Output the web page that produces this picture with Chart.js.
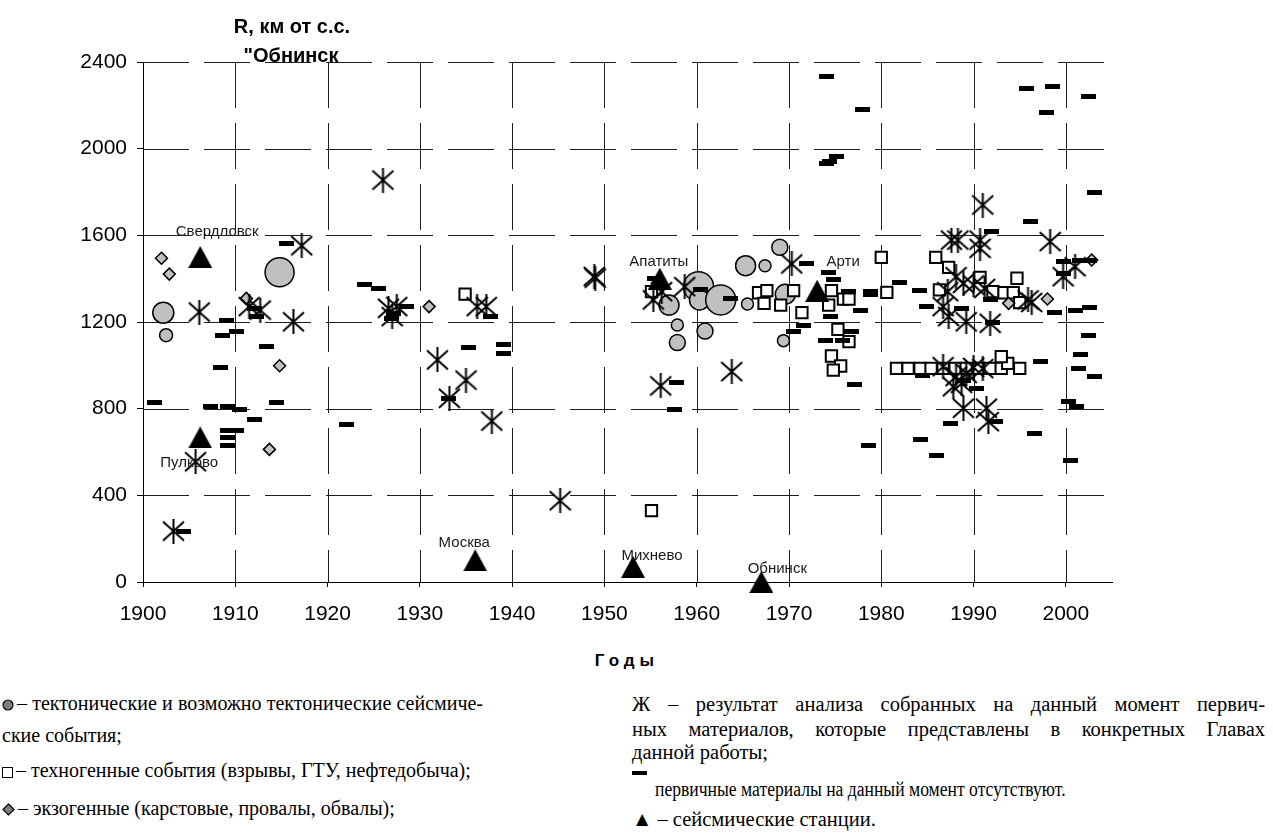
<!DOCTYPE html>
<html lang="ru">
<head>
<meta charset="utf-8">
<title>R от с.с. "Обнинск" по годам</title>
<script src="https://cdn.jsdelivr.net/npm/chart.js@4.4.1/dist/chart.umd.min.js"></script>
<style>
  body { margin: 0; background: #fff; }
  #page { position: relative; width: 1273px; height: 835px; overflow: hidden; color: #000;
          font-family: "Liberation Serif", "Times New Roman", serif; }
  #chart { position: absolute; left: 0; top: 0; }
  .ttl { position: absolute; font-family: "Liberation Sans", Arial, sans-serif; font-weight: bold;
         font-size: 20px; line-height: 20px; white-space: nowrap; transform: translateX(-50%); }
  .ln { position: absolute; font-size: 20.5px; line-height: 21px; white-space: nowrap; }
  .lc { font-size: 20px; }
  .ln svg { vertical-align: -1px; margin-right: 3px; }
</style>
</head>
<body>
<div id="page">
  <canvas id="chart" width="1273" height="640"></canvas>

  <div class="ttl" style="left:292px; top:16px;">R, км от с.с.</div>
  <div class="ttl" style="left:291px; top:45px;">"Обнинск</div>
  <div class="ttl" style="left:627px; top:651px; font-size:17px; letter-spacing:5px;">Годы</div>

  <div class="ln lc jst" data-w="481" style="left:2px; top:693px;"><svg width="12" height="12"><circle cx="6" cy="6" r="5" fill="#7f7f7f" stroke="#000" stroke-width="1.2"/></svg>– тектонические и возможно тектонические сейсмиче-</div>
  <div class="ln lc" style="left:2px; top:725px;">ские события;</div>
  <div class="ln lc" style="left:2px; top:760px;"><svg width="11" height="11"><rect x="0.5" y="0.5" width="10" height="10" fill="#fff" stroke="#000" stroke-width="1"/></svg>– техногенные события (взрывы, ГТУ, нефтедобыча);</div>
  <div class="ln lc" style="left:2px; top:798px;"><svg width="13" height="13"><path d="M6.5 1 L12 6.5 L6.5 12 L1 6.5 Z" fill="#7f7f7f" stroke="#000" stroke-width="1.2"/></svg>– экзогенные (карстовые, провалы, обвалы);</div>

  <div class="ln jst" data-w="633" style="left:632px; top:694px;">Ж – результат анализа собранных на данный момент первич-</div>
  <div class="ln jst" data-w="633" style="left:632px; top:719px;">ных материалов, которые представлены в конкретных Главах</div>
  <div class="ln" style="left:632px; top:742px;">данной работы;</div>
  <div style="position:absolute; left:632px; top:771px; width:15px; height:4px; background:#000;"></div>
  <div class="ln" style="left:655px; top:779px; font-size:20px; transform:scaleX(0.88); transform-origin:0 0;">первичные материалы на данный момент отсутствуют.</div>
  <div class="ln" style="left:632px; top:809px;">▲ – сейсмические станции.</div>
</div>

<script>
// Годы и расстояния R (км) от с.с. "Обнинск"
const xTicks = [1900, 1910, 1920, 1930, 1940, 1950, 1960, 1970, 1980, 1990, 2000]
const yTicks = [0, 400, 800, 1200, 1600, 2000, 2400]

// тектонические и возможно тектонические события (кружки разного размера)
const tectonicYears = [1902.2, 1902.5, 1914.8, 1957.0, 1957.9, 1957.9, 1960.2, 1960.3, 1960.9, 1962.6, 1965.3, 1967.4, 1969.0, 1965.5, 1969.6, 1969.4]
const tectonicR     = [1243, 1139, 1430, 1278, 1186, 1105, 1363, 1302, 1158, 1302, 1460, 1460, 1545, 1283, 1328, 1114]
const tectonicSize  = [10.5, 6.5, 14.5, 10, 6, 8, 15, 10, 8, 15, 10, 6, 8, 6, 10, 6]

// техногенные события
const techYears = [1934.9, 1955.1, 1955.1, 1966.7, 1967.6, 1967.3, 1969.1, 1970.5, 1974.6, 1974.3, 1975.9, 1976.5, 1971.4, 1975.3, 1976.5, 1974.6, 1975.6, 1974.8,
                   1980.0, 1980.6, 1985.9, 1987.3, 1990.7, 1994.7, 1986.3, 1992.1, 1993.3, 1994.3, 1995.0,
                   1981.65, 1982.9, 1984.2, 1985.4, 1986.7, 1988.0, 1989.2, 1990.5, 1991.8, 1993.0, 1995.0, 1993.7, 1993.0]
const techR     = [1329, 329, 1340, 1335, 1345, 1286, 1278, 1345, 1345, 1278, 1306, 1306, 1243, 1166, 1109, 1043, 997, 978,
                   1498, 1337, 1498, 1452, 1406, 1402, 1348, 1340, 1335, 1335, 1289,
                   986, 986, 986, 986, 986, 986, 986, 986, 986, 986, 986, 1009, 1040]

// экзогенные события
const exoYears = [1902.0, 1902.85, 1911.2, 1914.8, 1913.7, 1931.0, 1993.8, 1998.0, 2002.8]
const exoR     = [1494, 1421, 1309, 998, 612, 1271, 1286, 1306, 1486]

// Ж - результат анализа первичных материалов
const analysisYears = [1903.3, 1905.7, 1906.1, 1911.5, 1912.7, 1916.3, 1917.2, 1926.0, 1926.6, 1927.5, 1927.0, 1931.9, 1933.2, 1935.0, 1936.2, 1937.2, 1937.8,
                       1945.2, 1949.0, 1948.9, 1956.1, 1963.8, 1956.2, 1955.3, 1958.7, 1970.3,
                       1987.6, 1988.3, 1990.7, 1990.7, 1991.0, 1998.3, 2001.0, 1999.7, 1988.1, 1988.9, 1990.0, 1991.2, 1987.2, 1986.7, 1987.3, 1989.2, 1991.8, 1995.9, 1996.3,
                       1986.7, 1988.1, 1988.7, 1989.2, 1987.8, 1988.9, 1991.4, 1991.6, 1990.0, 1991.0]
const analysisR     = [235, 555, 1246, 1271, 1255, 1201, 1552, 1855, 1263, 1271, 1225, 1025, 848, 932, 1271, 1271, 743,
                       375, 1402, 1410, 905, 971, 1340, 1302, 1363, 1468,
                       1578, 1578, 1578, 1540, 1740, 1571, 1455, 1409, 1409, 1378, 1371, 1355, 1340, 1271, 1225, 1201, 1194, 1302, 1290,
                       994, 948, 917, 963, 901, 802, 802, 740, 990, 985]

// первичные материалы отсутствуют
const noDataYears = [1901.2, 1904.4, 1907.3, 1908.4, 1908.6, 1909.07, 1909.2, 1909.2, 1909.2, 1909.2, 1910.1, 1910.1, 1910.5, 1912.1, 1912.1, 1912.3, 1913.4, 1914.5, 1915.6,
                     1922.1, 1924.05, 1925.5, 1926.9, 1927.1, 1928.6, 1933.1, 1935.3, 1937.7, 1939.1, 1939.1,
                     1955.4, 1957.6, 1957.8, 1960.4, 1963.7, 1970.5, 1971.6, 1971.9,
                     1974.1, 1974.1, 1974.4, 1975.2, 1978.0, 1974.3, 1974.8, 1976.4, 1977.7, 1974.5, 1976.8, 1974.0, 1975.8, 1977.1, 1978.6, 1978.8, 1978.8,
                     1982.0, 1984.1, 1984.9, 1984.2, 1986.0, 1987.5, 1984.5, 1990.3, 1992.4, 1988.9, 1988.7, 1991.8, 1992.1, 1991.9,
                     1995.7, 1998.5, 1997.9, 2002.4, 2003.1, 1996.2, 1999.7, 1999.7, 2001.5, 2002.6, 1998.8, 2001.0, 2002.6, 2002.4, 2001.6, 2001.4, 2003.1, 2000.3, 2001.2, 2000.5, 1996.6, 1997.2]
const noDataR     = [829, 235, 809, 989, 1140, 1206, 809, 698, 668, 629, 698, 1158, 798, 752, 1264, 1225, 1085, 829, 1563,
                     725, 1374, 1355, 1217, 1240, 1271, 848, 1083, 1225, 1098, 1055,
                     1402, 798, 922, 1348, 1309, 1158, 1186, 1468,
                     2335, 1932, 1940, 1966, 2183, 1428, 1394, 1343, 1251, 1225, 1158, 1114, 1114, 912, 629, 1340, 1328,
                     1383, 1345, 1271, 659, 583, 732, 951, 894, 743, 932, 1263, 1302, 1197, 1617,
                     2277, 2288, 2165, 2240, 1797, 1666, 1478, 1425, 1486, 1486, 1243, 1252, 1268, 1137, 1052, 986, 948, 835, 809, 563, 686, 1017]

// сейсмические станции
const stationNames = ['Свердловск', 'Пулково', 'Москва', 'Михнево', 'Обнинск', 'Апатиты', 'Арти']
const stationYears = [1906.2, 1906.2, 1936.0, 1953.1, 1967.0, 1956.0, 1973.05]
const stationR     = [1500, 667, 100, 70, 0, 1400, 1344]

// сдвиг подписи станции относительно значка, px
const stationLabelShift = {
  'Свердловск': [17, -25], 'Пулково': [-11, 25], 'Москва': [-11, -17], 'Михнево': [19, -11],
  'Обнинск': [16, -13], 'Апатиты': [-1, -17], 'Арти': [26, -29]
}

function pts(xs, ys) {
  return xs.map((x, i) => ({ x: x, y: ys[i] }))
}

function markCanvas(w, h, draw) {
  const c = document.createElement('canvas')
  c.width = w
  c.height = h
  draw(c.getContext('2d'), w, h)
  return c
}

// значок Ж: косой крест с вертикальной чертой
const starImg = markCanvas(23, 25, (g, w, h) => {
  g.strokeStyle = '#000'
  g.lineWidth = 2
  g.beginPath()
  g.moveTo(w / 2, 0); g.lineTo(w / 2, h)
  g.moveTo(1, 3); g.lineTo(w - 1, h - 3)
  g.moveTo(w - 1, 3); g.lineTo(1, h - 3)
  g.stroke()
})
const dashImg = markCanvas(15, 5, (g, w, h) => {
  g.fillStyle = '#000'
  g.fillRect(0, 0, w, h)
})
const triImg = markCanvas(24, 22, (g, w, h) => {
  g.fillStyle = '#000'
  g.beginPath()
  g.moveTo(w / 2, 0); g.lineTo(w, h); g.lineTo(0, h)
  g.closePath()
  g.fill()
})

const gridColor = '#1e1e1e'

// штрихи сетки рисуем отрезками: 46px линия, 15px пропуск
function dashedPath(ctx, x1, y1, x2, y2) {
  const len = Math.hypot(x2 - x1, y2 - y1)
  const ux = (x2 - x1) / len
  const uy = (y2 - y1) / len
  for (let d = 0; d < len; d += 61) {
    const e = Math.min(d + 46, len)
    ctx.moveTo(x1 + ux * d, y1 + uy * d)
    ctx.lineTo(x1 + ux * e, y1 + uy * e)
  }
}

const dashedGrid = {
  id: 'dashedGrid',
  beforeDatasetsDraw(chart) {
    const { ctx, chartArea: a, scales: { x, y } } = chart
    ctx.save()
    ctx.strokeStyle = gridColor
    ctx.lineWidth = 1
    ctx.beginPath()
    xTicks.slice(1).forEach(v => {
      const px = Math.round(x.getPixelForValue(v)) + 0.5
      dashedPath(ctx, px, a.top, px, a.bottom)
    })
    yTicks.slice(1).forEach(v => {
      const py = Math.round(y.getPixelForValue(v)) + 0.5
      dashedPath(ctx, a.left, py, a.right, py)
    })
    ctx.stroke()
    ctx.restore()
  }
}

const stationLabels = {
  id: 'stationLabels',
  afterDatasetsDraw(chart) {
    const ctx = chart.ctx
    const meta = chart.getDatasetMeta(0)
    ctx.save()
    ctx.font = '15px "Liberation Sans", Arial, sans-serif'
    ctx.fillStyle = '#1a1a1a'
    ctx.textAlign = 'center'
    ctx.textBaseline = 'middle'
    stationNames.forEach((name, i) => {
      const p = meta.data[i]
      const s = stationLabelShift[name]
      ctx.fillText(name, p.x + s[0], p.y + s[1])
    })
    ctx.restore()
  }
}

const myChart = new Chart(document.getElementById('chart'), {
  type: 'scatter',
  data: {
    datasets: [
      { label: 'станции', data: pts(stationYears, stationR), pointStyle: triImg, pointRadius: 12 },
      { label: 'нет материалов', data: pts(noDataYears, noDataR), pointStyle: dashImg, pointRadius: 8 },
      { label: 'Ж', data: pts(analysisYears, analysisR), pointStyle: starImg, pointRadius: 12 },
      { label: 'экзогенные', data: pts(exoYears, exoR), pointStyle: 'rectRot', pointRadius: 6,
        backgroundColor: '#c0c0c0', borderColor: '#000', borderWidth: 1.5 },
      { label: 'техногенные', data: pts(techYears, techR), pointStyle: 'rect', pointRadius: 8,
        backgroundColor: '#fff', borderColor: '#000', borderWidth: 2 },
      { label: 'тектонические', data: pts(tectonicYears, tectonicR), pointStyle: 'circle', pointRadius: tectonicSize,
        backgroundColor: '#c0c0c0', borderColor: '#000', borderWidth: 1.5 }
    ].map(d => Object.assign({ clip: false, pointHoverRadius: d.pointRadius }, d))
  },
  plugins: [dashedGrid, stationLabels],
  options: {
    responsive: false,
    animation: false,
    events: [],
    layout: { padding: { top: 62, right: 161, bottom: 0, left: 0 } },
    plugins: { legend: { display: false }, tooltip: { enabled: false } },
    scales: {
      x: {
        type: 'linear', min: 1900, max: 2005,
        afterBuildTicks: s => { s.ticks = xTicks.map(v => ({ value: v })) },
        afterFit: s => { s.height = 58 },
        grid: { drawOnChartArea: false, tickLength: 5, tickColor: '#000' },
        border: { display: true, color: '#000', width: 1 },
        ticks: { color: '#000', padding: 15, maxRotation: 0, font: { family: '"Liberation Sans", Arial, sans-serif', size: 21 },
                 callback: v => String(v) }
      },
      y: {
        type: 'linear', min: 0, max: 2400,
        afterBuildTicks: s => { s.ticks = yTicks.map(v => ({ value: v })) },
        afterFit: s => { s.width = 143 },
        grid: { drawOnChartArea: false, tickLength: 6, tickColor: '#000' },
        border: { display: true, color: '#000', width: 1 },
        ticks: { color: '#000', padding: 10, font: { family: '"Liberation Sans", Arial, sans-serif', size: 21 },
                 callback: v => String(v) }
      }
    }
  }
})

// растягиваем строки подписи по ширине колонки
document.querySelectorAll('.jst').forEach(el => {
  const target = +el.dataset.w
  const spaces = (el.textContent.match(/ /g) || []).length
  const extra = target - el.getBoundingClientRect().width
  if (spaces) el.style.wordSpacing = (extra / spaces) + 'px'
})
</script>
</body>
</html>
